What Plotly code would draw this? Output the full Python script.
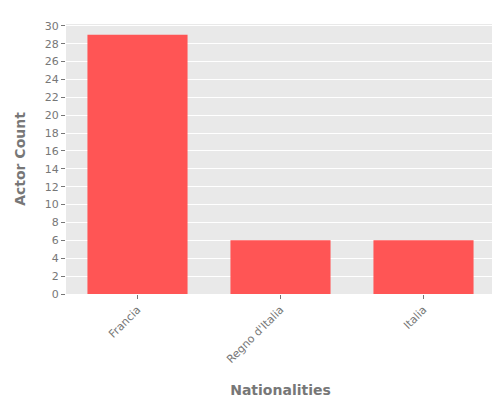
import plotly.graph_objects as go

nationalities = ["Francia", "Regno d'Italia", "Italia"]
actor_counts = [29, 6, 6]

fig = go.Figure()
fig.add_trace(go.Bar(
    x=nationalities, y=actor_counts,
    marker=dict(color="#ff5555", line=dict(width=0)),
    width=0.7,
))
fig.update_layout(
    width=500, height=400,
    margin=dict(l=58, r=13, t=12, b=110),
    paper_bgcolor="white",
    plot_bgcolor="#e9e9e9",
    font=dict(family="DejaVu Sans", size=11, color="#777777"),
    showlegend=False,
    bargap=0.3,
    xaxis=dict(
        title=dict(text="Nationalities", font=dict(size=14, color="#777777"), standoff=20),
        tickangle=-45, showgrid=False, ticks="outside", ticklen=4, tickcolor="#777777",
    ),
    yaxis=dict(
        title=dict(text="<b>Actor Count</b>", font=dict(size=14, color="#777777")),
        range=[0, 30.2], dtick=2, gridcolor="white", gridwidth=1,
        ticks="outside", ticklen=4, tickcolor="#777777", zeroline=False,
    ),
)
fig.update_xaxes(title_text="<b>Nationalities</b>")
fig.write_html("out.html")
